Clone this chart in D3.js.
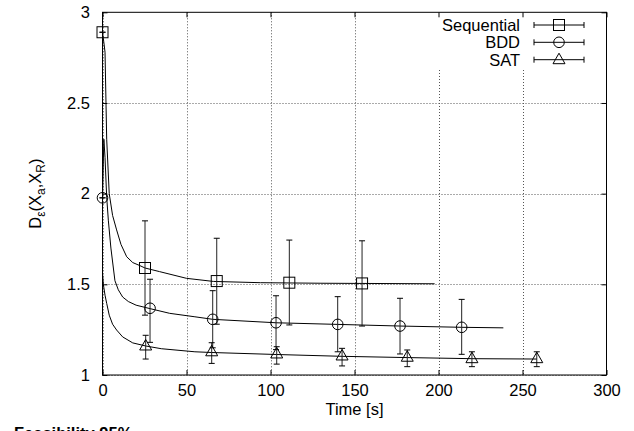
<!DOCTYPE html>
<meta charset="utf-8">
<style>
body { margin: 0; background: #fff; }
text { font-family: "Liberation Sans", Arial, sans-serif; }
</style>
<svg width="634" height="431"></svg>
<script src="https://d3js.org/d3.v7.min.js"></script>
<script>

// measured points (time, value, low, high)
var seqPts = [[0, 2.89, 2.89, 2.89], [25.3, 1.59, 1.33, 1.85], [68, 1.518, 1.28, 1.754],
              [111.2, 1.509, 1.276, 1.744], [154.5, 1.505, 1.27, 1.74]];
var bddPts = [[0, 1.977, 1.977, 1.977], [28.3, 1.368, 1.18, 1.528], [65.6, 1.307, 1.15, 1.465],
              [103.3, 1.288, 1.14, 1.437], [140, 1.279, 1.128, 1.432], [177.1, 1.27, 1.116, 1.423],
              [213.8, 1.263, 1.114, 1.417]];
var satPts = [[25.7, 1.16, 1.088, 1.219], [65, 1.128, 1.064, 1.178], [103.7, 1.116, 1.06, 1.156],
              [142.6, 1.105, 1.05, 1.147], [181.4, 1.098, 1.046, 1.138], [219.9, 1.09, 1.046, 1.128],
              [258.5, 1.09, 1.046, 1.128]];

// smoothed curves
var seqCurve = [[0, 2.89], [1, 2.82], [1.5, 2.78], [2.5, 2.3], [4, 2.0], [6, 1.88], [8.4, 1.8],
                [11, 1.72], [14.4, 1.652], [18, 1.62], [22.3, 1.603], [25.3, 1.59], [34, 1.57],
                [50, 1.533], [66, 1.516], [94, 1.509], [130, 1.506], [197.7, 1.503]];
var bddCurve = [[0, 1.977], [0.8, 2.3], [1.5, 2.2], [2.5, 1.98], [3.5, 1.85], [5, 1.7],
                [7.4, 1.52], [9.4, 1.47], [12, 1.43], [15.4, 1.405], [20, 1.385], [28.3, 1.366],
                [40, 1.34], [55, 1.321], [65.6, 1.307], [103.3, 1.288], [140, 1.279],
                [177.1, 1.27], [213.8, 1.263], [238.6, 1.26]];
var satCurve = [[0, 1.56], [0.5, 1.5], [1.5, 1.44], [2.5, 1.395], [4, 1.33], [6, 1.28],
                [8.4, 1.248], [12, 1.21], [18, 1.177], [25.7, 1.16], [35, 1.145], [55, 1.128],
                [65, 1.124], [103.7, 1.113], [142.6, 1.103], [181.4, 1.096], [219.9, 1.09],
                [258.5, 1.088]];

var seriesNames = ["Sequential", "BDD", "SAT"];
var xTicks = [0, 50, 100, 150, 200, 250, 300];
var yTicks = [1, 1.5, 2, 2.5, 3];

var svg = d3.select("svg");
var pL = 102.5, pT = 12.3, pR = 606.5, pB = 375;
var fs = 16.5;

var x = d3.scaleLinear().domain([0, 300]).range([pL, pR]);
var y = d3.scaleLinear().domain([1, 3]).range([pB, pT]);

// grid (vertical lines stop above the key box)
var keyBox = {x0: 430, y1: 70};
var grid = svg.append("g").attr("stroke", "#555").attr("stroke-width", 1)
    .attr("stroke-dasharray", "1,2");
xTicks.slice(0, -1).forEach(function(t) {
  var px = Math.round(x(t)) + 0.5;
  grid.append("line").attr("x1", px).attr("x2", px)
      .attr("y1", px > keyBox.x0 ? keyBox.y1 : pT).attr("y2", pB);
});
yTicks.slice(0, -1).forEach(function(t) {
  var py = Math.round(y(t)) + 0.5;
  grid.append("line").attr("x1", pL).attr("x2", pR).attr("y1", py).attr("y2", py);
});

// frame
svg.append("rect").attr("x", pL).attr("y", pT).attr("width", pR - pL)
    .attr("height", pB - pT).attr("fill", "none").attr("stroke", "#000");

// axes with inward ticks, mirrored
var axB = svg.append("g").attr("transform", "translate(0," + pB + ")")
    .call(d3.axisBottom(x).tickValues(xTicks).tickSize(-5).tickFormat(d3.format("d")));
var axT = svg.append("g").attr("transform", "translate(0," + pT + ")")
    .call(d3.axisTop(x).tickValues(xTicks).tickSize(-5).tickFormat(""));
var axL = svg.append("g").attr("transform", "translate(" + pL + ",0)")
    .call(d3.axisLeft(y).tickValues(yTicks).tickSize(-5).tickPadding(12.5).tickFormat(d3.format("")));
var axR = svg.append("g").attr("transform", "translate(" + pR + ",0)")
    .call(d3.axisRight(y).tickValues(yTicks).tickSize(-5).tickFormat(""));
[axB, axT, axL, axR].forEach(function(a) {
  a.select(".domain").remove();
  a.selectAll("text").attr("font-family", "Liberation Sans, Arial, sans-serif")
      .attr("font-size", fs).attr("fill", "#000");
});
axB.selectAll("text").attr("dy", 0).attr("y", 21);

// axis labels
svg.append("text").attr("x", (pL + pR) / 2).attr("y", 415).attr("text-anchor", "middle")
    .attr("font-size", fs).text("Time [s]");
var yl = svg.append("text").attr("transform", "translate(41," + (pT + pB) / 2 + ") rotate(-90)")
    .attr("text-anchor", "middle").attr("font-size", fs);
yl.append("tspan").text("D");
yl.append("tspan").attr("font-size", 12).attr("dy", 4).text("ε");
yl.append("tspan").attr("dy", -4).text("(X");
yl.append("tspan").attr("font-size", 12).attr("dy", 4).text("a");
yl.append("tspan").attr("dy", -4).text(",X");
yl.append("tspan").attr("font-size", 12).attr("dy", 4).text("R");
yl.append("tspan").attr("dy", -4).text(")");

svg.append("text").attr("x", 14).attr("y", 439).attr("font-size", fs)
    .attr("font-weight", "bold").text("Feasibility 95%");

// curves
var line = d3.line().x(function(d) { return x(d[0]); }).y(function(d) { return y(d[1]); });
[seqCurve, bddCurve, satCurve].forEach(function(c) {
  svg.append("path").datum(c).attr("d", line).attr("fill", "none")
      .attr("stroke", "#000").attr("stroke-width", 1);
});

// markers
function marker(g, kind, cx, cy) {
  if (kind === 0) {
    g.append("rect").attr("x", cx - 5.5).attr("y", cy - 5.5).attr("width", 11).attr("height", 11);
  } else if (kind === 1) {
    g.append("circle").attr("cx", cx).attr("cy", cy).attr("r", 5.3);
  } else {
    g.append("path").attr("d", "M" + (cx - 6) + "," + (cy + 4) + "L" + (cx + 6) + "," + (cy + 4) +
        "L" + cx + "," + (cy - 6.5) + "Z");
  }
}

var marks = svg.append("g").attr("fill", "none").attr("stroke", "#000").attr("stroke-width", 1);
[seqPts, bddPts, satPts].forEach(function(pts, k) {
  pts.forEach(function(p) {
    var px = x(p[0]), lo = y(p[2]), hi = y(p[3]);
    marks.append("line").attr("x1", px).attr("x2", px).attr("y1", lo).attr("y2", hi)
        .attr("stroke", "#222");
    marks.append("line").attr("x1", px - 3).attr("x2", px + 3).attr("y1", lo).attr("y2", lo);
    marks.append("line").attr("x1", px - 3).attr("x2", px + 3).attr("y1", hi).attr("y2", hi);
    marker(marks, k, px, y(p[1]));
  });
});

// key
var keyRows = [25, 42.3, 59.7];
seriesNames.forEach(function(name, k) {
  var ry = keyRows[k];
  svg.append("text").attr("x", 520).attr("y", ry + 6).attr("text-anchor", "end")
      .attr("font-size", fs).text(name);
  marks.append("line").attr("x1", 534).attr("x2", 584).attr("y1", ry).attr("y2", ry);
  marks.append("line").attr("x1", 534).attr("x2", 534).attr("y1", ry - 3).attr("y2", ry + 3);
  marks.append("line").attr("x1", 584).attr("x2", 584).attr("y1", ry - 3).attr("y2", ry + 3);
  marker(marks, k, 559, ry);
});

</script>
